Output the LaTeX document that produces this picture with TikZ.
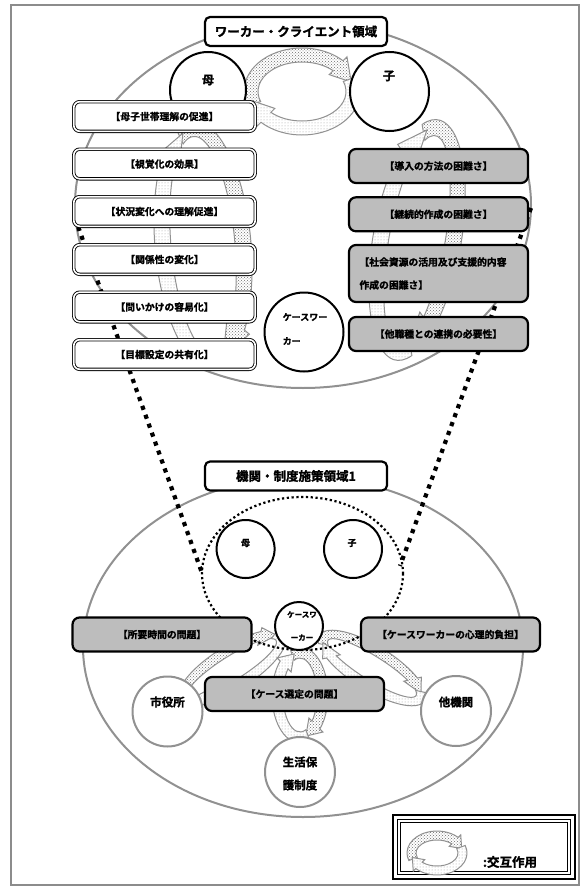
\documentclass[tikz,border=0pt]{standalone}
\usepackage{fontspec}
\setmainfont{Noto Sans CJK JP}[BoldFont={Noto Sans CJK JP Bold}, BoldFeatures={FakeBold=1.6}]
\usetikzlibrary{patterns}
\definecolor{boxgray}{RGB}{189,189,189}
\definecolor{linegray}{RGB}{145,145,145}
\newcommand\lbfont{\bfseries\fontsize{9.8}{12}\selectfont}
\newcommand\bandarrow[7]{%
  \pgfmathsetmacro\bOA{#3+0.4*#5}\pgfmathsetmacro\bOB{#4+0.4*#5}%
  \pgfmathsetmacro\bMA{#3-0.5*#5}\pgfmathsetmacro\bMB{#4-0.5*#5}%
  \pgfmathsetmacro\bNA{#3-1.4*#5}\pgfmathsetmacro\bNB{#4-1.4*#5}%
  \pgfmathsetmacro\bIA{#3-#5}\pgfmathsetmacro\bIB{#4-#5}%
  \pgfmathsetmacro\bTip{#2+#7}%
  \path[#6] (#1:#3 and #4) arc[start angle=#1, end angle=#2, x radius=#3, y radius=#4]
    -- (#2:\bOA\space and \bOB) -- (\bTip:\bMA\space and \bMB) -- (#2:\bNA\space and \bNB)
    -- (#2:\bIA\space and \bIB) arc[start angle=#2, end angle=#1, x radius=\bIA, y radius=\bIB] -- cycle;}
\newcommand\iloop[6]{%
  \begin{scope}[shift={(#1,#2)}, rotate={-(#5)}]
    \bandarrow{160}{315}{#3}{#4}{#6}{bandA}{30}
    \bandarrow{340}{495}{#3}{#4}{#6}{bandB}{30}
  \end{scope}}
\tikzset{
  ell/.style={draw=linegray, line width=2pt},
  bandA/.style={draw=linegray, line width=1pt, preaction={fill=white}, pattern=crosshatch dots, pattern color=gray!85!black},
  bandB/.style={draw=linegray, line width=1pt, preaction={fill=white}, pattern=dots, pattern color=gray!75},
  titlebox/.style={draw=black, line width=2.2pt, rounded corners=5pt, fill=white, minimum width=182pt, minimum height=29pt, inner sep=0pt, font=\bfseries\fontsize{12.5}{14}\selectfont},
  wbox/.style={draw=black, double=white, double distance=1.6pt, line width=0.9pt, rounded corners=6pt, fill=white, minimum width=181.5pt, minimum height=29.6pt, inner sep=0pt, font=\lbfont},
  gbox/.style={draw=black, line width=2.2pt, rounded corners=7pt, fill=boxgray, minimum width=179pt, minimum height=34pt, inner sep=0pt, font=\lbfont},
  bcirc/.style={circle, draw=black, line width=2pt, fill=white, inner sep=0pt},
  gcirc/.style={circle, draw=linegray, line width=2pt, fill=white, inner sep=0pt},
  ctext/.style={inner sep=0pt, font=\bfseries\fontsize{12}{14}\selectfont},
  stext/.style={inner sep=0pt, align=center, font=\bfseries\fontsize{11.5}{23}\selectfont},
  dotline/.style={draw=black, line width=4.2pt, dash pattern=on 4.2pt off 5.3pt},
  smalldots/.style={draw=black, line width=2.2pt, dash pattern=on 2.2pt off 2.6pt},
}
\begin{document}
\begin{tikzpicture}[x=1pt, y=-1pt]
\useasboundingbox (0,0) rectangle (588,891);
\draw[gray!90, line width=1.2pt] (11,5) rectangle (579,885);
% domain ellipses
\draw[ell] (303,205) ellipse[x radius=228, y radius=183];
\draw[ell] (303,647) ellipse[x radius=220, y radius=170];
% interaction loops
\iloop{302}{91.5}{58}{43.5}{0}{14}
\iloop{203}{245}{125}{48}{85}{16}
\iloop{417}{240}{122}{44}{100}{16}
\iloop{232}{668}{62}{22}{-32}{10}
\iloop{372}{668}{62}{22}{32}{10}
\iloop{300}{695}{48}{28}{90}{11}
% zoom lines
\coordinate (dl1) at (75,218);
\coordinate (dl2) at (202,573);
\coordinate (dr1) at (531,208);
\coordinate (dr2) at (400,566);
\draw[dotline] (dl1) -- (dl2);
\draw[dotline] (dr1) -- (dr2);
\draw[smalldots] (302.5,573.5) ellipse[x radius=100.5, y radius=76.5];
% upper circles
\node[bcirc, minimum size=76pt] (mo1) at (208,90) {};
\node[ctext] (mo1t) at (208,80) {母};
\node[bcirc, minimum size=79pt] (ko1) at (389.5,91.5) {};
\node[ctext] (ko1t) at (389,76) {子};
\node[bcirc, minimum size=79pt] (cw1) at (304,332) {};
\node[inner sep=0pt, align=left, font=\bfseries\fontsize{9}{24}\selectfont] (cw1t) at (305,329) {ケースワー\\カー};
% left boxes
\node[wbox] (l1) at (164.5,116.5) {【母子世帯理解の促進】};
\node[wbox] (l2) at (164.5,164) {【視覚化の効果】};
\node[wbox] (l3) at (164.5,211.5) {【状況変化への理解促進】};
\node[wbox] (l4) at (164.5,259.5) {【関係性の変化】};
\node[wbox] (l5) at (164.5,307) {【問いかけの容易化】};
\node[wbox] (l6) at (164.5,354.5) {【目標設定の共有化】};
% right boxes
\node[gbox] (r1) at (438.5,166) {【導入の方法の困難さ】};
\node[gbox] (r2) at (438.5,214.3) {【継続的作成の困難さ】};
\node[gbox, minimum height=57pt, text width=158pt, inner xsep=10pt, align=left, font=\bfseries\fontsize{9.8}{23}\selectfont] (r3) at (438.5,273.5) {【社会資源の活用及び支援的内容\\作成の困難さ】};
\node[gbox] (r4) at (438.5,334) {【他職種との連携の必要性】};
% titles
\node[titlebox] (t1) at (296,31.5) {ワーカー・クライエント領域};
\node[titlebox] (t2) at (296,476) {機関・制度施策領域1};
% lower circles
\node[bcirc, minimum size=58pt] (mo2) at (245.6,549) {};
\node[inner sep=0pt, font=\bfseries\fontsize{9}{11}\selectfont] (mo2t) at (245.5,543) {母};
\node[bcirc, minimum size=58pt] (ko2) at (353,549) {};
\node[inner sep=0pt, font=\bfseries\fontsize{9}{11}\selectfont] (ko2t) at (352,543) {子};
\node[bcirc, minimum size=48pt] (cw2) at (299,626) {};
\node[inner sep=0pt, align=center, font=\bfseries\fontsize{7.5}{23}\selectfont] (cw2t) at (302,626) {ケースワ\\ーカー};
\node[gcirc, minimum size=70pt] (sh) at (167.5,711.5) {};
\node[ctext, font=\bfseries\fontsize{11.5}{14}\selectfont] (sht) at (167.5,702) {市役所};
\node[gcirc, minimum size=70pt] (ta) at (456,711) {};
\node[ctext, font=\bfseries\fontsize{11.5}{14}\selectfont] (tat) at (456,702) {他機関};
\node[gcirc, minimum size=70pt] (se) at (300,772) {};
\node[stext] (set) at (300,773.5) {生活保\\護制度};
% lower boxes
\node[gbox] (p1) at (162,634.5) {【所要時間の問題】};
\node[gbox] (p2) at (450.5,634.5) {【ケースワーカーの心理的負担】};
\node[gbox] (p3) at (294.5,694) {【ケース選定の問題】};
% legend
\draw[line width=2.4pt] (393,815) rectangle (575,879);
\draw[line width=0.8pt] (397.5,819.5) rectangle (570.5,874.5);
\draw[line width=1.5pt] (400.5,822.5) rectangle (567.5,871.5);
\iloop{437}{853}{30}{22}{0}{9}
\node[inner sep=0pt, font=\bfseries\fontsize{12.5}{14}\selectfont] (lg) at (510,862) {:交互作用};
\end{tikzpicture}
\end{document}
